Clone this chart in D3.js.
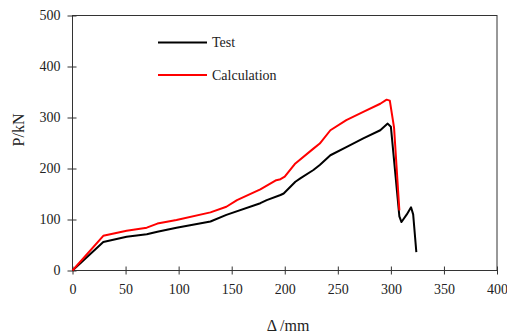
<!DOCTYPE html>
<html>
<head>
<meta charset="utf-8">
<script src="https://cdn.jsdelivr.net/npm/d3@7"></script>
<style>
  body { margin: 0; background: #fff; }
</style>
</head>
<body>
<svg width="507" height="334"></svg>
<script>
// displacement (mm), load (kN)
const testData = [[0,0],[29,56],[51,66],[70,71],[80,76],[98,84],[130,96],[145,109],[177,132],[183,138],
  [196,148],[199,151],[210,174],[215,181],[227,197],[233,207],[243,226],[258,242],[274,259],[290,275],
  [297,288],[300,282],[308,106],[310,95],[315,110],[319,124],[321,110],[324,36]];
const calcData = [[0,0],[29,68],[51,78],[70,84],[80,92],[98,99],[130,114],[145,125],[155,138],[177,159],
  [192,177],[196,179],[200,184],[210,210],[227,239],[233,249],[243,275],[258,295],[274,311],[290,327],
  [296,335],[299,333],[303,280],[308,118]];
const xTicks = [0,50,100,150,200,250,300,350,400];
const yTicks = [0,100,200,300,400,500];
const seriesNames = ["Test","Calculation"];
const seriesColors = ["#000000","#ff0000"];

const serif = "'Liberation Serif', 'DejaVu Serif', serif";

const svg = d3.select("svg");
const plotLeft = 72.5, plotRight = 497, plotTop = 15.5, plotBottom = 270.5;

const x = d3.scaleLinear().domain([0,400]).range([plotLeft,plotRight]);
const y = d3.scaleLinear().domain([0,500]).range([plotBottom,plotTop]);

// frame
svg.append("rect")
    .attr("x",plotLeft).attr("y",plotTop)
    .attr("width",plotRight-plotLeft).attr("height",plotBottom-plotTop)
    .attr("fill","none").attr("stroke","#333").attr("stroke-width",1);

// ticks crossing the axis line
const xAxis = svg.append("g").attr("transform",`translate(0,${plotBottom})`)
    .call(d3.axisBottom(x).tickValues(xTicks).tickSize(4).tickPadding(6));
xAxis.select(".domain").remove();
xAxis.selectAll(".tick line").attr("y1",-4).attr("y2",4).attr("stroke","#333");
xAxis.selectAll(".tick text").style("font-family",serif).style("font-size","14px")
    .attr("fill","#222").attr("dy","0.95em");

const yAxis = svg.append("g").attr("transform",`translate(${plotLeft},0)`)
    .call(d3.axisLeft(y).tickValues(yTicks).tickSize(4).tickPadding(8));
yAxis.select(".domain").remove();
yAxis.selectAll(".tick line").attr("x1",-5).attr("x2",4).attr("stroke","#333");
yAxis.selectAll(".tick text").style("font-family",serif).style("font-size","14px")
    .attr("fill","#222");

// axis titles
svg.append("text").attr("x",288).attr("y",331)
    .attr("text-anchor","middle").style("font-family",serif).style("font-size","16px")
    .attr("fill","#222")
    .text("Δ /mm");
svg.append("text").attr("transform","translate(24,130) rotate(-90)")
    .attr("text-anchor","middle").style("font-family",serif).style("font-size","16px")
    .attr("fill","#222")
    .text("P/kN");

const line = d3.line().x(d => x(d[0])).y(d => y(d[1]));
const allSeries = [testData, calcData];
allSeries.forEach((s,i) => {
  svg.append("path")
      .attr("d",line(s))
      .attr("fill","none")
      .attr("stroke",seriesColors[i])
      .attr("stroke-width",2)
      .attr("stroke-linejoin","round");
});

// legend
const legendY = [42.5, 75];
seriesNames.forEach((name,i) => {
  svg.append("line")
      .attr("x1",158).attr("x2",207)
      .attr("y1",legendY[i]).attr("y2",legendY[i])
      .attr("stroke",seriesColors[i]).attr("stroke-width",2);
  svg.append("text")
      .attr("x",212).attr("y",legendY[i]+4.5)
      .style("font-family",serif).style("font-size","14px")
      .attr("fill","#222")
      .text(name);
});
</script>
</body>
</html>
